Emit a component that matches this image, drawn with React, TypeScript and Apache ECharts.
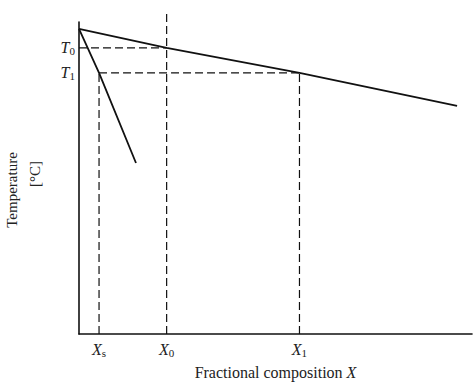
import React, { useEffect, useRef } from "react";
import * as echarts from "echarts";

// Phase diagram: liquidus and solidus lines with the equilibrium construction.
const Xs = 5.1;
const X0 = 22.3;
const X1 = 56.1;
const T0 = 91.7;
const T1 = 83.7;
const X0_TOP = 103.2;

const liquidus: [number, number][] = [
  [0, 97.8],
  [X0, T0],
  [X1, T1],
  [96.2, 73.1],
];
const solidus: [number, number][] = [
  [0, 97.8],
  [Xs, T1],
  [14.5, 54.8],
];

const xTickValues = [Xs, X0, X1];
const xTickLabels = ["{v|X}{s|s}", "{v|X}{s|0}", "{v|X}{s|1}"];
const yTickValues = [T0, T1];
const yTickLabels = ["{v|T}{s|0}", "{v|T}{s|1}"];

const SERIF = "'Liberation Serif', 'DejaVu Serif', serif";

const richSub = {
  v: { fontFamily: SERIF, fontStyle: "italic", fontSize: 16, color: "#222", lineHeight: 18 },
  s: { fontFamily: SERIF, fontSize: 11, color: "#222", lineHeight: 18, verticalAlign: "bottom", padding: [6, 0, 0, 0] },
};

const solid = { color: "#111", width: 1.8 };
const dashed = { color: "#111", width: 1.2, type: [8, 4] as number[] };

function guide(data: [number, number][]) {
  return {
    type: "line",
    data,
    symbol: "none",
    clip: false,
    lineStyle: dashed,
    silent: true,
  };
}

export default function App() {
  const ref = useRef<HTMLDivElement>(null);
  useEffect(() => {
    if (!ref.current) return;
    const chart = echarts.init(ref.current, null, { renderer: "svg" });
    chart.setOption({
      animation: false,
      backgroundColor: "#fff",
      grid: { left: 79, right: 1, top: 22, bottom: 52, containLabel: false, outerBoundsMode: "none" },
      xAxis: {
        type: "value",
        min: 0,
        max: 100,
        name: "Fractional composition {i|X}",
        nameLocation: "middle",
        nameGap: 30,
        nameTextStyle: {
          fontFamily: SERIF,
          fontSize: 16,
          color: "#222",
          rich: { i: { fontFamily: SERIF, fontStyle: "italic", fontSize: 16, color: "#222" } },
        },
        axisLine: { lineStyle: { color: "#111", width: 1.6 } },
        axisTick: { show: false },
        splitLine: { show: false },
        axisLabel: {
          customValues: xTickValues,
          margin: 6,
          formatter: (val: number) => xTickLabels[xTickValues.indexOf(val)] ?? "",
          rich: richSub,
        },
      },
      yAxis: {
        type: "value",
        min: 0,
        max: 100,
        name: "{a|Temperature}\n{b|[°C]}",
        nameLocation: "middle",
        nameGap: 33,
        nameTextStyle: {
          fontFamily: SERIF,
          fontSize: 15,
          color: "#222",
          lineHeight: 23,
          rich: {
            a: { fontFamily: SERIF, fontSize: 15, color: "#222", lineHeight: 23, padding: [0, 24, 0, 0] },
            b: { fontFamily: SERIF, fontSize: 15, color: "#222", lineHeight: 23, padding: [0, 0, 0, 8] },
          },
        },
        axisLine: { show: true, lineStyle: { color: "#111", width: 1.6 } },
        axisTick: { show: false },
        splitLine: { show: false },
        axisLabel: {
          customValues: yTickValues,
          margin: 4,
          formatter: (val: number) => yTickLabels[yTickValues.indexOf(val)] ?? "",
          rich: richSub,
        },
      },
      series: [
        { type: "line", data: liquidus, symbol: "none", lineStyle: solid, silent: true },
        { type: "line", data: solidus, symbol: "none", lineStyle: solid, silent: true },
        guide([[0, T0], [X0, T0]]),
        guide([[X0, 0], [X0, X0_TOP]]),
        guide([[Xs, T1], [X1, T1]]),
        guide([[Xs, 0], [Xs, T1]]),
        guide([[X1, 0], [X1, T1]]),
      ],
    });
    return () => chart.dispose();
  }, []);
  return (
    <div
      ref={ref}
      style={{ position: "fixed", left: 0, top: 0, width: 473, height: 386, background: "#fff" }}
    />
  );
}
